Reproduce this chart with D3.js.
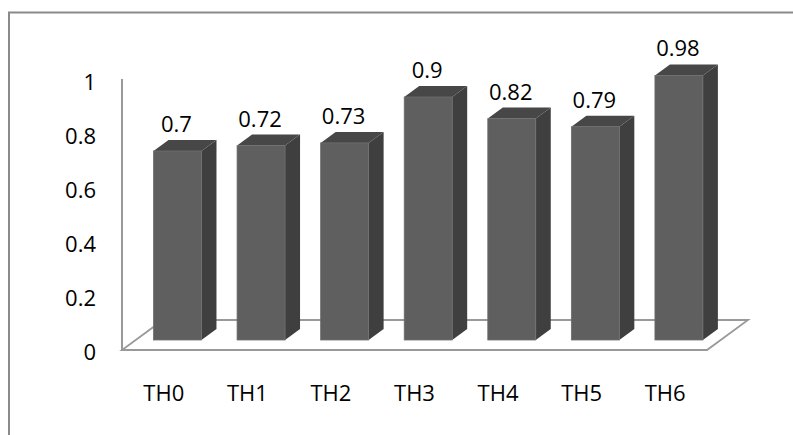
<!DOCTYPE html>
<html>
<head>
<meta charset="utf-8">
<script src="https://cdn.jsdelivr.net/npm/d3@7"></script>
<style>
  body { margin: 0; background: #fff; }
  text { font-family: "Open Sans", sans-serif; fill: #000; }
</style>
</head>
<body>
<svg id="svg1" width="793" height="435"></svg>
<script>
var categories = ["TH0", "TH1", "TH2", "TH3", "TH4", "TH5", "TH6"];
var values = [0.7, 0.72, 0.73, 0.9, 0.82, 0.79, 0.98];
var tickValues = [0, 0.2, 0.4, 0.6, 0.8, 1];

var svg = d3.select('svg');

// outer frame, only left and top edges fall inside the picture
svg.append('rect')
   .attr('x', 9).attr('y', 12.5)
   .attr('width', 900).attr('height', 600)
   .attr('fill', '#fff')
   .attr('stroke', '#8a8a8a')
   .attr('stroke-width', 2);

var floorLeft = 122, floorRight = 707, floorY = 350;
var depthX = 41, depthY = 30;   // floor depth (oblique)
var barShiftX = 13.7, barShiftY = 10; // bar front face sits a bit back
var sideX = 15, sideY = 11;     // bar depth

var x = d3.scaleBand()
          .domain(categories)
          .range([floorLeft, floorRight])
          .paddingInner(0.426)
          .paddingOuter(0.213);

var xSlot = d3.scaleBand().domain(categories).range([floorLeft, floorRight]);

var y = d3.scaleLinear().domain([0, 1]).range([floorY, 80]);

// floor
svg.append('path')
   .attr('d', d3.line()([[floorLeft, floorY], [floorRight, floorY],
                         [floorRight + depthX, floorY - depthY],
                         [floorLeft + depthX, floorY - depthY]]) + 'Z')
   .attr('fill', '#fff')
   .attr('stroke', '#999')
   .attr('stroke-width', 1.8);

// value axis line
svg.append('line')
   .attr('x1', floorLeft).attr('x2', floorLeft)
   .attr('y1', y(1) - 1).attr('y2', floorY)
   .attr('stroke', '#999')
   .attr('stroke-width', 2);

// tick labels
svg.selectAll('.tick')
   .data(tickValues)
   .enter()
   .append('text')
   .attr('x', 96)
   .attr('y', function(d) { return y(d) + 1; })
   .attr('text-anchor', 'end')
   .attr('dominant-baseline', 'central')
   .style('font-size', '22px')
   .text(function(d) { return d3.format('~g')(d); });

var data = categories.map(function(c, i) { return {cat: c, v: values[i]}; });

var bars = svg.selectAll('.bar')
              .data(data)
              .enter()
              .append('g')
              .attr('class', 'bar');

function fx(d) { return x(d.cat) + barShiftX; }
function fTop(d) { return y(d.v) - barShiftY; }
var base = floorY - barShiftY;

// side face
bars.append('path')
    .attr('d', function(d) {
      var x1 = fx(d) + x.bandwidth();
      return d3.line()([[x1, fTop(d)], [x1 + sideX, fTop(d) - sideY],
                        [x1 + sideX, base - sideY], [x1, base]]) + 'Z';
    })
    .attr('fill', '#3f3f3f');

// top face
bars.append('path')
    .attr('d', function(d) {
      var x0 = fx(d), x1 = fx(d) + x.bandwidth(), t = fTop(d);
      return d3.line()([[x0, t], [x1, t], [x1 + sideX, t - sideY],
                        [x0 + sideX, t - sideY]]) + 'Z';
    })
    .attr('fill', '#474747');

// front face
bars.append('rect')
    .attr('x', fx)
    .attr('y', fTop)
    .attr('width', x.bandwidth())
    .attr('height', function(d) { return base - fTop(d); })
    .attr('fill', '#5f5f5f')
    .attr('stroke', '#6e6e6e')
    .attr('stroke-width', 0.8);

// value labels
bars.append('text')
    .attr('x', function(d) { return fx(d) + x.bandwidth() / 2 - 1; })
    .attr('y', function(d) { return fTop(d) - sideY - 8; })
    .attr('text-anchor', 'middle')
    .style('font-size', '22px')
    .text(function(d) { return d.v; });

// category labels
svg.selectAll('.cat')
   .data(categories)
   .enter()
   .append('text')
   .attr('x', function(d) { return xSlot(d) + xSlot.bandwidth() / 2; })
   .attr('y', 401)
   .attr('text-anchor', 'middle')
   .style('font-size', '22px')
   .text(function(d) { return d; });
</script>
</body>
</html>
